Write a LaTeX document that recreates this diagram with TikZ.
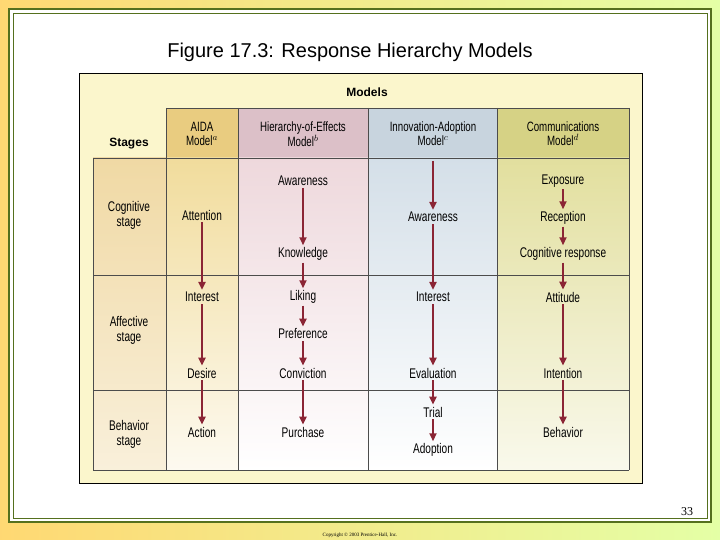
\documentclass[tikz,border=0pt]{standalone}
\usepackage{fontspec}
\usetikzlibrary{arrows.meta}
\setmainfont{Liberation Sans}
\newfontfamily\cond[FakeStretch=0.72]{Liberation Sans}
\newfontfamily\timesf{Liberation Serif}
\definecolor{arrowred}{HTML}{8B2535}
\definecolor{bordergreen}{HTML}{55701E}
\definecolor{figbg}{HTML}{FBF6CC}
\definecolor{hA}{HTML}{E9CC80}
\definecolor{bA}{HTML}{F1DC9C}
\definecolor{hB}{HTML}{DCC0C8}
\definecolor{bB}{HTML}{EED8DC}
\definecolor{hC}{HTML}{C8D4DE}
\definecolor{bC}{HTML}{D4DFE8}
\definecolor{hD}{HTML}{D6D285}
\definecolor{bD}{HTML}{E2DF9E}
\definecolor{sT}{HTML}{F0D9A4}
\begin{document}
\begin{tikzpicture}[x=1pt,y=-1pt,
  lbl/.style={font=\cond\fontsize{14}{15}\selectfont, inner sep=1pt, align=center},
  hdr/.style={font=\cond\fontsize{13.5}{14}\selectfont, align=center},
  arr/.style={draw=arrowred, line width=2.2pt, -{Triangle[length=8pt,width=7pt]}, shorten >=1pt, shorten <=1pt},
  grid/.style={draw=black!70, line width=0.6pt}]
% background
\shade[left color=orange!55!yellow!55, right color=green!30!yellow!35] (0,0) rectangle (720,540);
\useasboundingbox (0,0) rectangle (720,540);
\fill[white] (9,9) rectangle (711,522);
\draw[bordergreen, line width=2.5pt] (9,9) rectangle (711,522);
\draw[bordergreen, line width=0.8pt] (13,13) rectangle (707,518);
\node (title) at (350,52) {\fontsize{20}{22}\selectfont Figure 17.3: Response Hierarchy Models};
\node (pg) at (687,512) {\timesf\fontsize{12}{14}\selectfont 33};
\node (copy) at (360,535) {\timesf\fontsize{5}{6}\selectfont Copyright \textcopyright{} 2003 Prentice-Hall, Inc.};
% figure box
\draw[fill=figbg, line width=0.8pt] (79,73) rectangle (642,483);
% column fills
\shade[top color=sT, bottom color=sT!40] (93,158) rectangle (166,470);
\fill[hA] (166,108) rectangle (238,158);
\shade[top color=bA, bottom color=bA!15] (166,158) rectangle (238,470);
\fill[hB] (238,108) rectangle (368,158);
\shade[top color=bB, bottom color=white] (238,158) rectangle (368,470);
\fill[hC] (368,108) rectangle (497,158);
\shade[top color=bC, bottom color=white] (368,158) rectangle (497,470);
\fill[hD] (497,108) rectangle (629,158);
\shade[top color=bD, bottom color=bD!20] (497,158) rectangle (629,470);
% grid
\draw[grid] (166,108) -- (629,108);
\draw[grid] (93,158) -- (629,158);
\draw[grid] (93,275) -- (629,275);
\draw[grid] (93,390) -- (629,390);
\draw[grid] (93,470) -- (629,470);
\draw[grid] (93,158) -- (93,470);
\foreach \xx in {166,238,368,497} \draw[grid] (\xx,108) -- (\xx,470);
\draw[grid] (629,108) -- (629,470);
% headers
\node[font=\bfseries\fontsize{12}{14}\selectfont] (models) at (367,92) {Models};
\node[font=\bfseries\fontsize{12}{14}\selectfont] (stages) at (129,144) {Stages};
\node[hdr] (h1) at (202,134) {AIDA\\Model$^{a}$};
\node[hdr] (h2) at (303,134) {Hierarchy-of-Effects\\Model$^{b}$};
\node[hdr] (h3) at (433,134) {Innovation-Adoption\\Model$^{c}$};
\node[hdr] (h4) at (563,134) {Communications\\Model$^{d}$};
% stage labels
\node[lbl] (s1) at (129,215) {Cognitive\\stage};
\node[lbl] (s2) at (129,330) {Affective\\stage};
\node[lbl] (s3) at (129,434) {Behavior\\stage};
% AIDA
\node[lbl] (a1) at (202,215) {Attention};
\node[lbl] (a2) at (202,297) {Interest};
\node[lbl] (a3) at (202,373) {Desire};
\node[lbl] (a4) at (202,432) {Action};
% HoE
\node[lbl] (b1) at (303,181) {Awareness};
\node[lbl] (b2) at (303,254) {Knowledge};
\node[lbl] (b3) at (303,297) {Liking};
\node[lbl] (b4) at (303,334) {Preference};
\node[lbl] (b5) at (303,373) {Conviction};
\node[lbl] (b6) at (303,432) {Purchase};
% IA
\coordinate (c0) at (433,160);
\node[lbl] (c1) at (433,217) {Awareness};
\node[lbl] (c2) at (433,297) {Interest};
\node[lbl] (c3) at (433,373) {Evaluation};
\node[lbl] (c4) at (433,412) {Trial};
\node[lbl] (c5) at (433,450) {Adoption};
% Comm
\node[lbl] (d1) at (563,181) {Exposure};
\node[lbl] (d2) at (563,218) {Reception};
\node[lbl] (d3) at (563,254) {Cognitive response};
\node[lbl] (d4) at (563,297) {Attitude};
\node[lbl] (d5) at (563,373) {Intention};
\node[lbl] (d6) at (563,432) {Behavior};
% arrows
\foreach \p/\q in {a1/a2,a2/a3,a3/a4,b1/b2,b2/b3,b3/b4,b4/b5,b5/b6,c0/c1,c1/c2,c2/c3,c3/c4,c4/c5,d1/d2,d2/d3,d3/d4,d4/d5,d5/d6}
  \draw[arr] (\p) -- (\q);
\end{tikzpicture}
\end{document}
